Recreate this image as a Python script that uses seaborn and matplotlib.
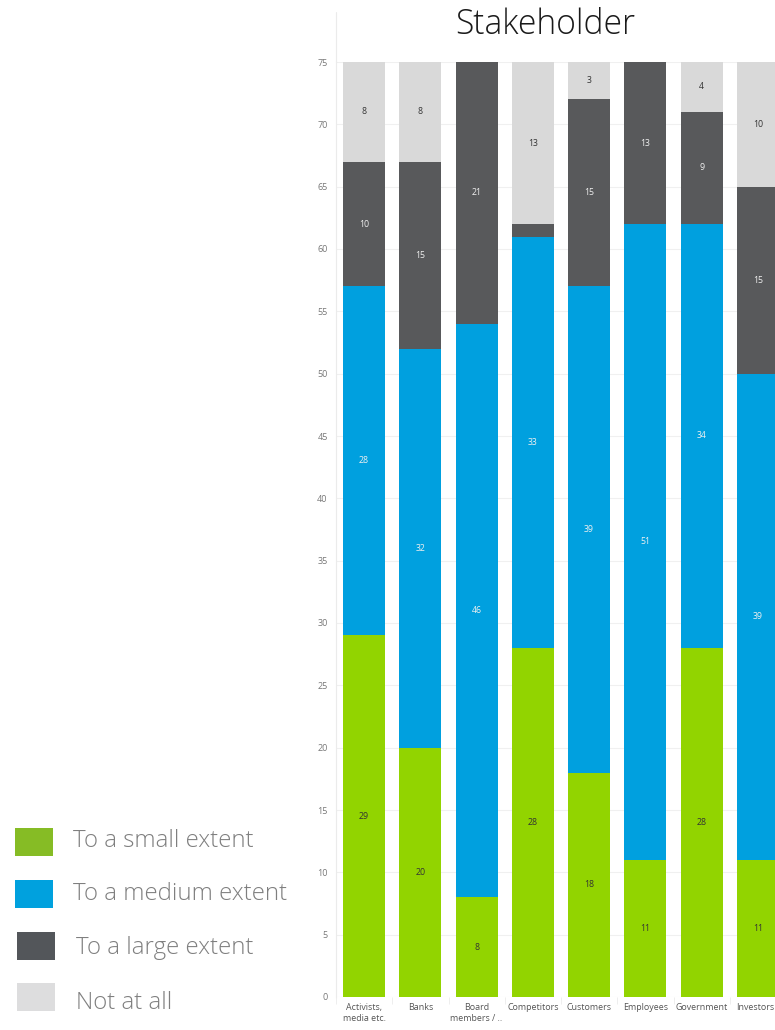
import numpy as np
import pandas as pd
import matplotlib
matplotlib.use("Agg")
import matplotlib.pyplot as plt
import matplotlib.transforms as mtrans
from matplotlib.patches import Rectangle
import seaborn as sns

categories = ["Activists,\nmedia etc.", "Banks", "Board\nmembers / ..", "Competitors",
              "Customers", "Employees", "Government", "Investors"]
small_extent = [29, 20, 8, 28, 18, 11, 28, 11]
medium_extent = [28, 32, 46, 33, 39, 51, 34, 39]
large_extent = [10, 15, 21, 1, 15, 13, 9, 15]
not_at_all = [8, 8, 0, 13, 3, 0, 4, 10]
series_names = ["To a small extent", "To a medium extent", "To a large extent", "Not at all"]
y_ticks = list(range(0, 80, 5))

bar_colors = ["#92D400", "#00A0DF", "#58595B", "#D9D9D9"]
legend_colors = ["#86BC25", "#00A1DE", "#53565A", "#DDDDDE"]
text_colors = ["#333333", "#F0F0F0", "#F0F0F0", "#333333"]

sns.set_theme(style="white")
plt.rcParams["font.family"] = ["Open Sans", "DejaVu Sans"]

fig = plt.figure(figsize=(7.75, 10.30), dpi=100)
ax = fig.add_axes([336 / 775, 33 / 1030, 450 / 775, 935 / 1030])

layers = [small_extent, medium_extent, large_extent, not_at_all]
cum = np.cumsum(np.array(layers, dtype=float), axis=0)

# draw from the top cumulative layer down so each shorter bar overlays
for i in range(3, -1, -1):
    df = pd.DataFrame({"cat": categories, "val": cum[i]})
    sns.barplot(data=df, x="cat", y="val", order=categories, color=bar_colors[i],
                saturation=1, width=0.75, ax=ax, zorder=2, linewidth=0)

# value labels
for i, layer in enumerate(layers):
    for j, v in enumerate(layer):
        if v < 2:
            continue
        top = cum[i][j]
        bottom = top - v
        ax.text(j, (top + bottom) / 2, str(v), ha="center", va="center",
                fontsize=6.3, color=text_colors[i], zorder=3)

ax.set_xlim(-0.5, 7.5)
ax.set_ylim(0, 75)
ax.set_yticks(y_ticks)
ax.set_yticklabels([str(t) for t in y_ticks], fontsize=6.5, color="#777777")
ax.set_xticks(range(len(categories)))
ax.set_xticklabels(categories, fontsize=6.4, color="#555555", linespacing=1.3)
ax.set_xticks(np.arange(-0.5, len(categories), 1.0), minor=True)
ax.set_xlabel("")
ax.set_ylabel("")
ax.grid(axis="y", color="#F0F0F0", linewidth=0.8, zorder=0)
ax.set_axisbelow(True)
for s in ["top", "right", "bottom"]:
    ax.spines[s].set_visible(False)
ax.spines["left"].set_color("#EBEBEB")
ax.spines["left"].set_linewidth(0.8)
ax.tick_params(axis="y", length=4, width=0.6, color="#EBEBEB", pad=2)
ax.tick_params(axis="x", which="major", length=0, pad=4)
ax.tick_params(axis="x", which="minor", length=5, width=0.6, color="#EBEBEB", bottom=True)

# nudge the last (edge) label slightly left so it stays inside the picture
last = ax.get_xticklabels()[-1]
last.set_transform(last.get_transform() + mtrans.ScaledTranslation(-3 / 100, 0, fig.dpi_scale_trans))

# extend left axis line upward like the reference
ax.plot([-0.5, -0.5], [75, 79.0], color="#EBEBEB", lw=0.8, clip_on=False)

fig.text(545 / 775, 1 - 25 / 1030, "Stakeholder", ha="center", va="center",
         fontsize=24.2, color="#1A1A1A", fontweight="light")

# legend
leg_rects = [(15, 828), (15, 880), (17, 932), (17, 983)]
leg_text = [(73, 841), (73, 894), (76, 948), (76, 1003)]
for (rx, ry), (tx, ty), c, name in zip(leg_rects, leg_text, legend_colors, series_names):
    fig.patches.append(Rectangle((rx / 775, 1 - (ry + 28) / 1030), 38 / 775, 28 / 1030,
                                 transform=fig.transFigure, facecolor=c, edgecolor="none"))
    fig.text(tx / 775, 1 - ty / 1030, name, ha="left", va="center", fontsize=17.3,
             color="#7F7F7F", fontweight="light")

fig.savefig("out.png", dpi=100)
